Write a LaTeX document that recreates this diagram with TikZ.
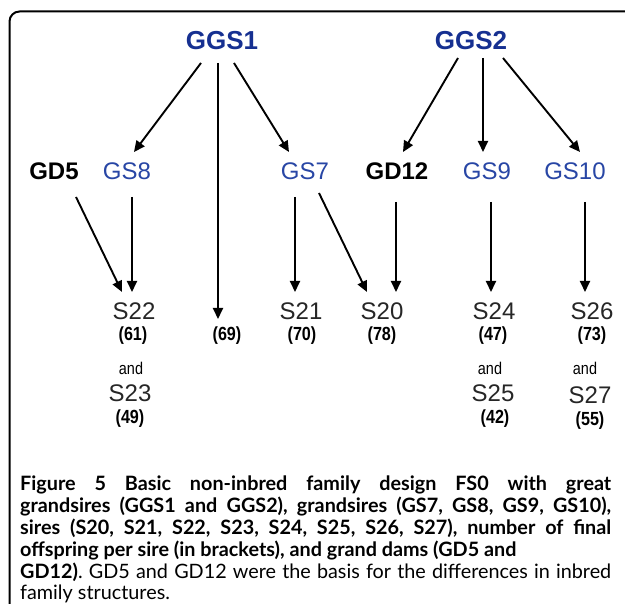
\documentclass[tikz,border=0pt]{standalone}
\usepackage{fontspec}
\setmainfont{Liberation Sans}
\newfontfamily\capfont{Lato}
\newfontfamily\narrowfont[FakeStretch=0.85]{Liberation Sans}
\usetikzlibrary{arrows.meta,calc}
\definecolor{ggsblue}{RGB}{22,48,145}
\definecolor{gsblue}{RGB}{40,70,165}
\frenchspacing
\begin{document}
\begin{tikzpicture}[x=1pt,y=-1pt,
  lab/.style={inner sep=0pt, anchor=base},
  ggs/.style={lab, text=ggsblue, font=\fontsize{26}{26}\selectfont\bfseries},
  gs/.style={lab, text=gsblue, font=\fontsize{24}{24}\selectfont},
  gd/.style={lab, font=\fontsize{24}{24}\selectfont\bfseries},
  sire/.style={lab, text=black!85, font=\fontsize{24}{24}\selectfont},
  num/.style={lab, font=\narrowfont\fontsize{19}{19}\selectfont\bfseries},
  andl/.style={lab, font=\narrowfont\fontsize{17}{17}\selectfont},
  arr/.style={line width=1.9pt, -{Triangle[length=11pt,width=10pt]}},
  capline/.style={anchor=base west, inner sep=0pt, font=\capfont\fontsize{19.8}{19.8}\selectfont\frenchspacing}
]
\useasboundingbox (0,0) rectangle (625,604);
\clip (0,0) rectangle (625,604);
\fill[white] (0,0) rectangle (625,604);
\draw[line width=2pt, rounded corners=10pt] (9.5,660) |- (680,11.5);

% great grandsires
\node[ggs] (ggs1) at (222,50) {GGS1};
\node[ggs] (ggs2) at (471,50) {GGS2};
% grandsires and grand dams
\node[gd] (gd5) at (54,180) {GD5};
\node[gs] (gs8) at (127,180) {GS8};
\node[gs] (gs7) at (305,180) {GS7};
\node[gd] (gd12) at (397,180) {GD12};
\node[gs] (gs9) at (487,180) {GS9};
\node[gs] (gs10) at (575,180) {GS10};
% sires
\node[sire] (s22) at (134,320) {S22};
\node[sire] (s21) at (301,320) {S21};
\node[sire] (s20) at (382,320) {S20};
\node[sire] (s24) at (494,320) {S24};
\node[sire] (s26) at (592,320) {S26};
\node[num] (n61) at (133,341) {(61)};
\node[num] (n69) at (227,341) {(69)};
\node[num] (n70) at (302,341) {(70)};
\node[num] (n78) at (382,341) {(78)};
\node[num] (n47) at (493,341) {(47)};
\node[num] (n73) at (592,341) {(73)};
\node[andl] (and1) at (131,375) {and};
\node[andl] (and2) at (490,375) {and};
\node[andl] (and3) at (585,375) {and};
\node[sire] (s23) at (130,402) {S23};
\node[sire] (s25) at (493,402) {S25};
\node[sire] (s27) at (590,404) {S27};
\node[num] (n49) at (130,424) {(49)};
\node[num] (n42) at (495,424) {(42)};
\node[num] (n55) at (590,426) {(55)};

% arrows from great grandsires
\draw[arr] ([shift={(-21,13)}]ggs1.base) -- ([shift={(7,-28)}]gs8.base);
\draw[arr] ([shift={(-4,13)}]ggs1.base) -- ([shift={(-9,-22)}]n69.base);
\draw[arr] ([shift={(12,13)}]ggs1.base) -- ([shift={(-16,-28)}]gs7.base);
\draw[arr] ([shift={(-13,8)}]ggs2.base) -- ([shift={(6,-28)}]gd12.base);
\draw[arr] ([shift={(12,8)}]ggs2.base) -- ([shift={(-4,-28)}]gs9.base);
\draw[arr] ([shift={(32,8)}]ggs2.base) -- ([shift={(5,-28)}]gs10.base);
% arrows to sires
\draw[arr] ([shift={(22,17)}]gd5.base) -- ([shift={(-12,-28)}]s22.base);
\draw[arr] ([shift={(5,17)}]gs8.base) -- ([shift={(-2,-28)}]s22.base);
\draw[arr] ([shift={(-10,17)}]gs7.base) -- ([shift={(-6,-28)}]s21.base);
\draw[arr] ([shift={(14,13)}]gs7.base) -- ([shift={(-15,-28)}]s20.base);
\draw[arr] ([shift={(-1,22)}]gd12.base) -- ([shift={(14,-28)}]s20.base);
\draw[arr] ([shift={(4,22)}]gs9.base) -- ([shift={(-3,-28)}]s24.base);
\draw[arr] ([shift={(10,22)}]gs10.base) -- ([shift={(-7,-28)}]s26.base);

% caption
\node[capline] (c1) at (20,491) {\hbox to 591pt{\bfseries Figure 5 Basic non-inbred family design FS0 with great}};
\node[capline] (c2) at (20,513) {\hbox to 591pt{\bfseries grandsires (GGS1 and GGS2), grandsires (GS7, GS8, GS9, GS10),}};
\node[capline] (c3) at (20,535) {\hbox to 591pt{\bfseries sires (S20, S21, S22, S23, S24, S25, S26, S27), number of final}};
\node[capline] (c4) at (20,557) {\bfseries offspring per sire (in brackets), and grand dams (GD5 and};
\node[capline] (c5) at (20,579) {\hbox to 591pt{{\bfseries GD12)}. GD5 and GD12 were the basis for the differences in inbred}};
\node[capline] (c6) at (20,600) {family structures.};
\end{tikzpicture}
\end{document}
